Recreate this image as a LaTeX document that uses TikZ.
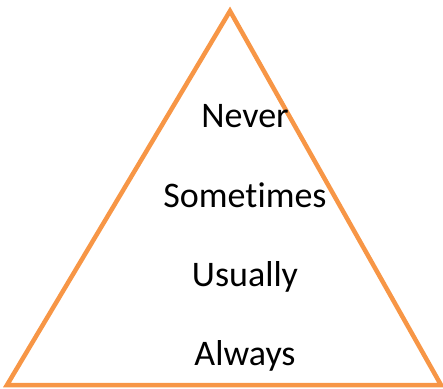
\documentclass[tikz,border=0pt]{standalone}
\usepackage{fontspec}
\setmainfont{Carlito}[Ligatures=NoCommon]
\definecolor{triorange}{RGB}{247,150,70}
\begin{document}
\begin{tikzpicture}[x=1pt,y=-1pt,
  edge/.style={draw=triorange,line width=4.5pt,line join=miter},
  word/.style={anchor=base,inner sep=0pt,font=\fontsize{36}{42}\selectfont}]
\useasboundingbox (0,0) rectangle (443,388);
\coordinate (apex) at (230,11);
\coordinate (bl) at (7,385);
\coordinate (br) at (441,385);
\draw[edge] (apex) -- (br) -- (bl) -- cycle;
\node[word] (never) at (245,127) {Never};
\node[word] (sometimes) at (245,207) {Sometimes};
\node[word] (usually) at (245,286) {Usually};
\node[word] (always) at (245,365) {Always};
\end{tikzpicture}
\end{document}
